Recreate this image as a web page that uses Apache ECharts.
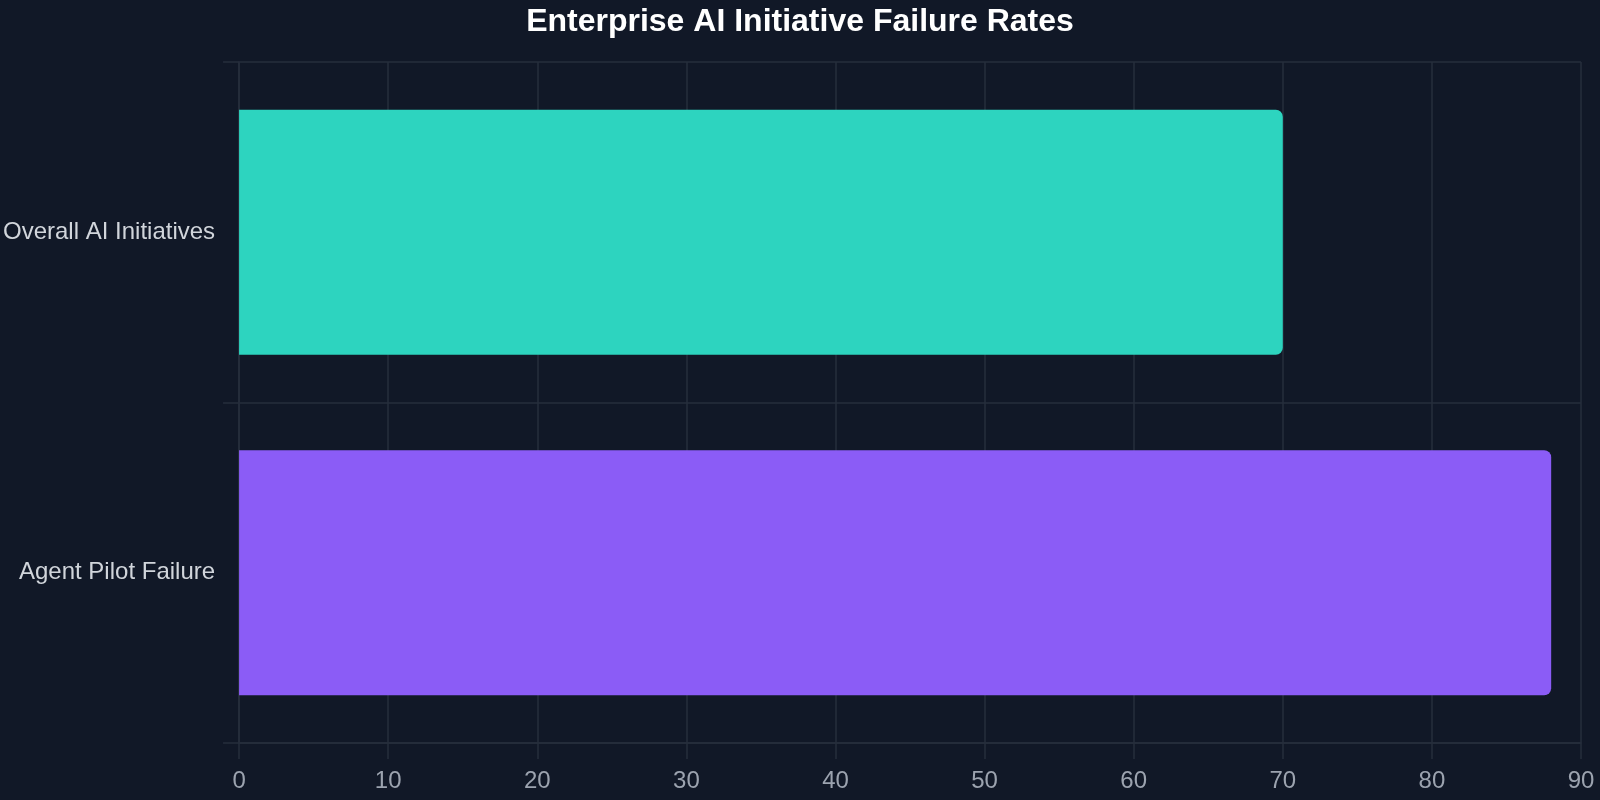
<!DOCTYPE html>
<html>
<head>
<meta charset="utf-8">
<title>Enterprise AI Initiative Failure Rates</title>
<script src="https://cdn.jsdelivr.net/npm/echarts@6/dist/echarts.min.js"></script>
<style>
  html, body { margin: 0; padding: 0; background: #111827; }
  #main { width: 1600px; height: 800px; }
</style>
</head>
<body>
<div id="main"></div>
<script>
var categories = ["Overall AI Initiatives", "Agent Pilot Failure"];
var failureRates = [70, 88];
var barColors = ["#2dd4bf", "#8b5cf6"];

var lineColor = "#262e3d";
var chart = echarts.init(document.getElementById("main"));

var option = {
  backgroundColor: "#111827",
  textStyle: { fontFamily: "'Liberation Sans', Arial, sans-serif" },
  title: {
    text: "Enterprise AI Initiative Failure Rates",
    left: "center",
    top: 1,
    textStyle: { color: "#ffffff", fontSize: 32, fontWeight: "bold" }
  },
  grid: { left: 239, right: 19, top: 62, bottom: 57, containLabel: false },
  xAxis: {
    type: "value",
    min: 0,
    max: 90,
    interval: 10,
    axisLine: { show: true, lineStyle: { color: lineColor, width: 1.5 } },
    axisTick: { show: true, length: 16, lineStyle: { color: lineColor, width: 1.5 } },
    axisLabel: { color: "#9ca3af", fontSize: 24, margin: 26 },
    splitLine: { show: true, lineStyle: { color: lineColor, width: 1.5 } }
  },
  yAxis: {
    type: "category",
    inverse: true,
    data: categories,
    axisLine: { show: true, lineStyle: { color: lineColor, width: 1.5 } },
    axisTick: { show: true, length: 16, lineStyle: { color: lineColor, width: 1.5 } },
    axisLabel: { color: "#d1d5db", fontSize: 24, margin: 24, verticalAlign: "middle", lineHeight: 24, padding: [8, 0, 0, 0] },
    splitLine: { show: true, lineStyle: { color: lineColor, width: 1.5 } }
  },
  series: [
    {
      type: "bar",
      barWidth: "72%",
      z: 1,
      data: failureRates.map(function (v, i) {
        return { value: v, itemStyle: { color: barColors[i] } };
      }),
      itemStyle: { borderRadius: [0, 7, 7, 0] }
    }
  ]
};

chart.setOption(option);
</script>
</body>
</html>
